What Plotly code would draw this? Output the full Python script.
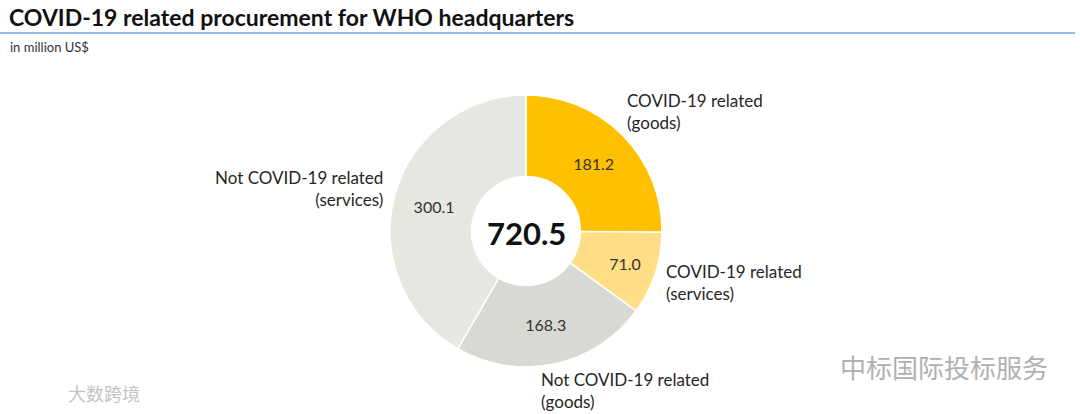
import plotly.graph_objects as go

# ---- data ----
categories = ["COVID-19 related (goods)", "COVID-19 related (services)",
              "Not COVID-19 related (goods)", "Not COVID-19 related (services)"]
values = [181.2, 71.0, 168.3, 300.1]
total_label = "720.5"
colors = ["#FFC000", "#FFDE85", "#D9D9D3", "#E7E7E2"]

W, H = 1080, 414

def px(x):
    return x / W

def py(y):
    return 1 - y / H

cx, cy, r = 526, 231, 136

fig = go.Figure()
fig.add_trace(go.Pie(
    labels=categories,
    values=values,
    sort=False,
    direction="clockwise",
    rotation=0,
    hole=0.40,
    marker=dict(colors=colors, line=dict(color="white", width=1.5)),
    texttemplate="%{value:.1f}",
    textposition="inside",
    insidetextorientation="horizontal",
    textfont=dict(family="Lato", size=16, color="#333333"),
    domain=dict(x=[px(cx - r), px(cx + r)], y=[py(cy + r), py(cy - r)]),
    showlegend=False,
    hoverinfo="label+value",
))

lab_font = dict(family="Lato", size=17, color="#262626")

annotations = [
    dict(x=px(7), y=py(17), text="<b>COVID-19 related procurement for WHO headquarters</b>",
         xanchor="left", yanchor="middle", showarrow=False,
         font=dict(family="Lato", size=23, color="#111111")),
    dict(x=px(8), y=py(47), text="in million US$", xanchor="left", yanchor="middle",
         showarrow=False, font=dict(family="Lato", size=13, color="#333333")),
    dict(x=px(cx), y=py(cy + 2), text="<b>" + total_label + "</b>", xanchor="center",
         yanchor="middle", showarrow=False,
         font=dict(family="Lato", size=31, color="#111111")),
    dict(x=px(625), y=py(111), text="COVID-19 related<br>(goods)", xanchor="left",
         yanchor="middle", align="left", showarrow=False, font=lab_font),
    dict(x=px(664), y=py(282), text="COVID-19 related<br>(services)", xanchor="left",
         yanchor="middle", align="left", showarrow=False, font=lab_font),
    dict(x=px(539), y=py(390), text="Not COVID-19 related<br>(goods)", xanchor="left",
         yanchor="middle", align="left", showarrow=False, font=lab_font),
    dict(x=px(385), y=py(188), text="Not COVID-19 related<br>(services)", xanchor="right",
         yanchor="middle", align="right", showarrow=False, font=lab_font),
    # watermarks
    dict(x=px(838), y=py(366), text="中标国际投标服务", xanchor="left", yanchor="middle",
         showarrow=False, font=dict(family="Noto Sans CJK SC", size=26, color="#B0B0B0")),
    dict(x=px(66), y=py(393), text="大数跨境", xanchor="left", yanchor="middle",
         showarrow=False, font=dict(family="Noto Sans CJK SC", size=18, color="#C4C4C4")),
]

shapes = [
    dict(type="line", xref="paper", yref="paper", x0=0, x1=px(1075), y0=py(33), y1=py(33),
         line=dict(color="#6FA8DC", width=1.5)),
]

fig.update_layout(
    width=W, height=H,
    margin=dict(l=0, r=0, t=0, b=0),
    paper_bgcolor="white", plot_bgcolor="white",
    annotations=annotations, shapes=shapes,
    font=dict(family="Lato"),
)

fig.write_html("out.html",
               config={"displayModeBar": False},
               post_script="document.body.style.margin='0';document.body.style.padding='0';")
